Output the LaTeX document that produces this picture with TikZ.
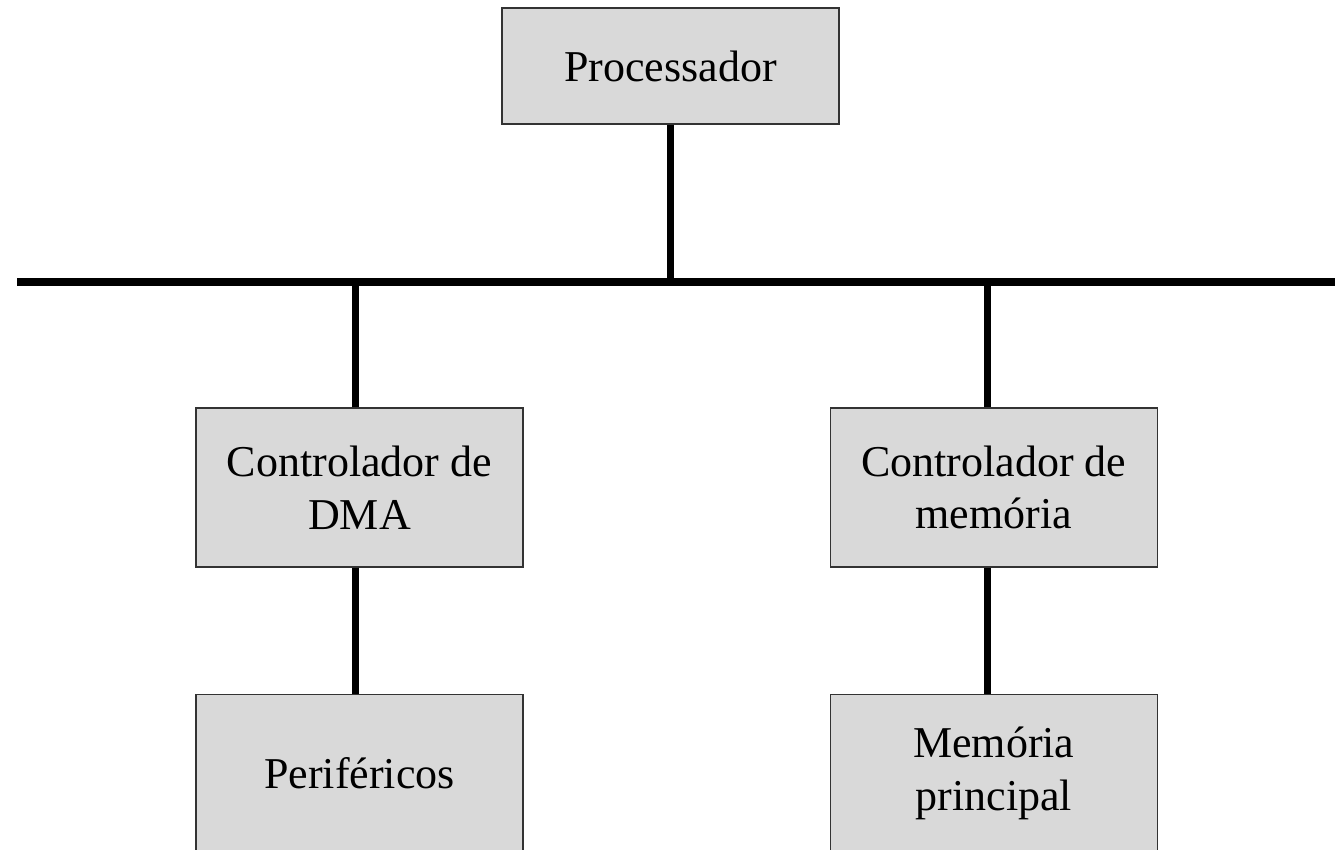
\documentclass[tikz,border=0pt]{standalone}
\usepackage{fontspec}
\setmainfont{Liberation Serif}
\usepackage{tikz}
\usetikzlibrary{positioning}

\begin{document}
\begin{tikzpicture}[x=0.025cm, y=-0.025cm,
    khoi/.style={draw=black!80, line width=0.8pt, fill=black!15, align=center,
        inner sep=0pt, minimum width=8.175cm, minimum height=3.975cm,
        font=\fontsize{31.3}{37.6}\selectfont},
    bus/.style={line width=5.7pt},
    day/.style={line width=5pt}]
    \useasboundingbox (0,0) rectangle (1335,849);
    \clip (0,0) rectangle (1335,849);

    % Các khối
    \node[khoi, minimum width=8.425cm, minimum height=2.9cm] (proc) at (670.5,66) {Processador};
    \node[khoi] (dma) at (359.5,487.5) {Controlador de\\DMA};
    \node[khoi, right=7.65cm of dma] (ctlmem) {Controlador de\\memória};
    \node[khoi, below=3.15cm of dma] (perif) {Periféricos};
    \node[khoi, below=3.15cm of ctlmem] (mem) {Memória\\principal};

    % Vẽ bus
    \coordinate (busA) at (17,282);
    \coordinate (busB) at (1345,282);
    \draw[bus] (busA) -- (busB);

    % Nối các khối
    \draw[day] (proc.south) -- (proc.south |- busA);
    \draw[day] ([xshift=-0.11cm]dma.north) -- ([xshift=-0.11cm]dma.north |- busA);
    \draw[day] ([xshift=-0.15cm]ctlmem.north) -- ([xshift=-0.15cm]ctlmem.north |- busA);
    \draw[day] ([xshift=-0.11cm]dma.south) -- ([xshift=-0.11cm]perif.north);
    \draw[day] ([xshift=-0.15cm]ctlmem.south) -- ([xshift=-0.15cm]mem.north);
\end{tikzpicture}
\end{document}
